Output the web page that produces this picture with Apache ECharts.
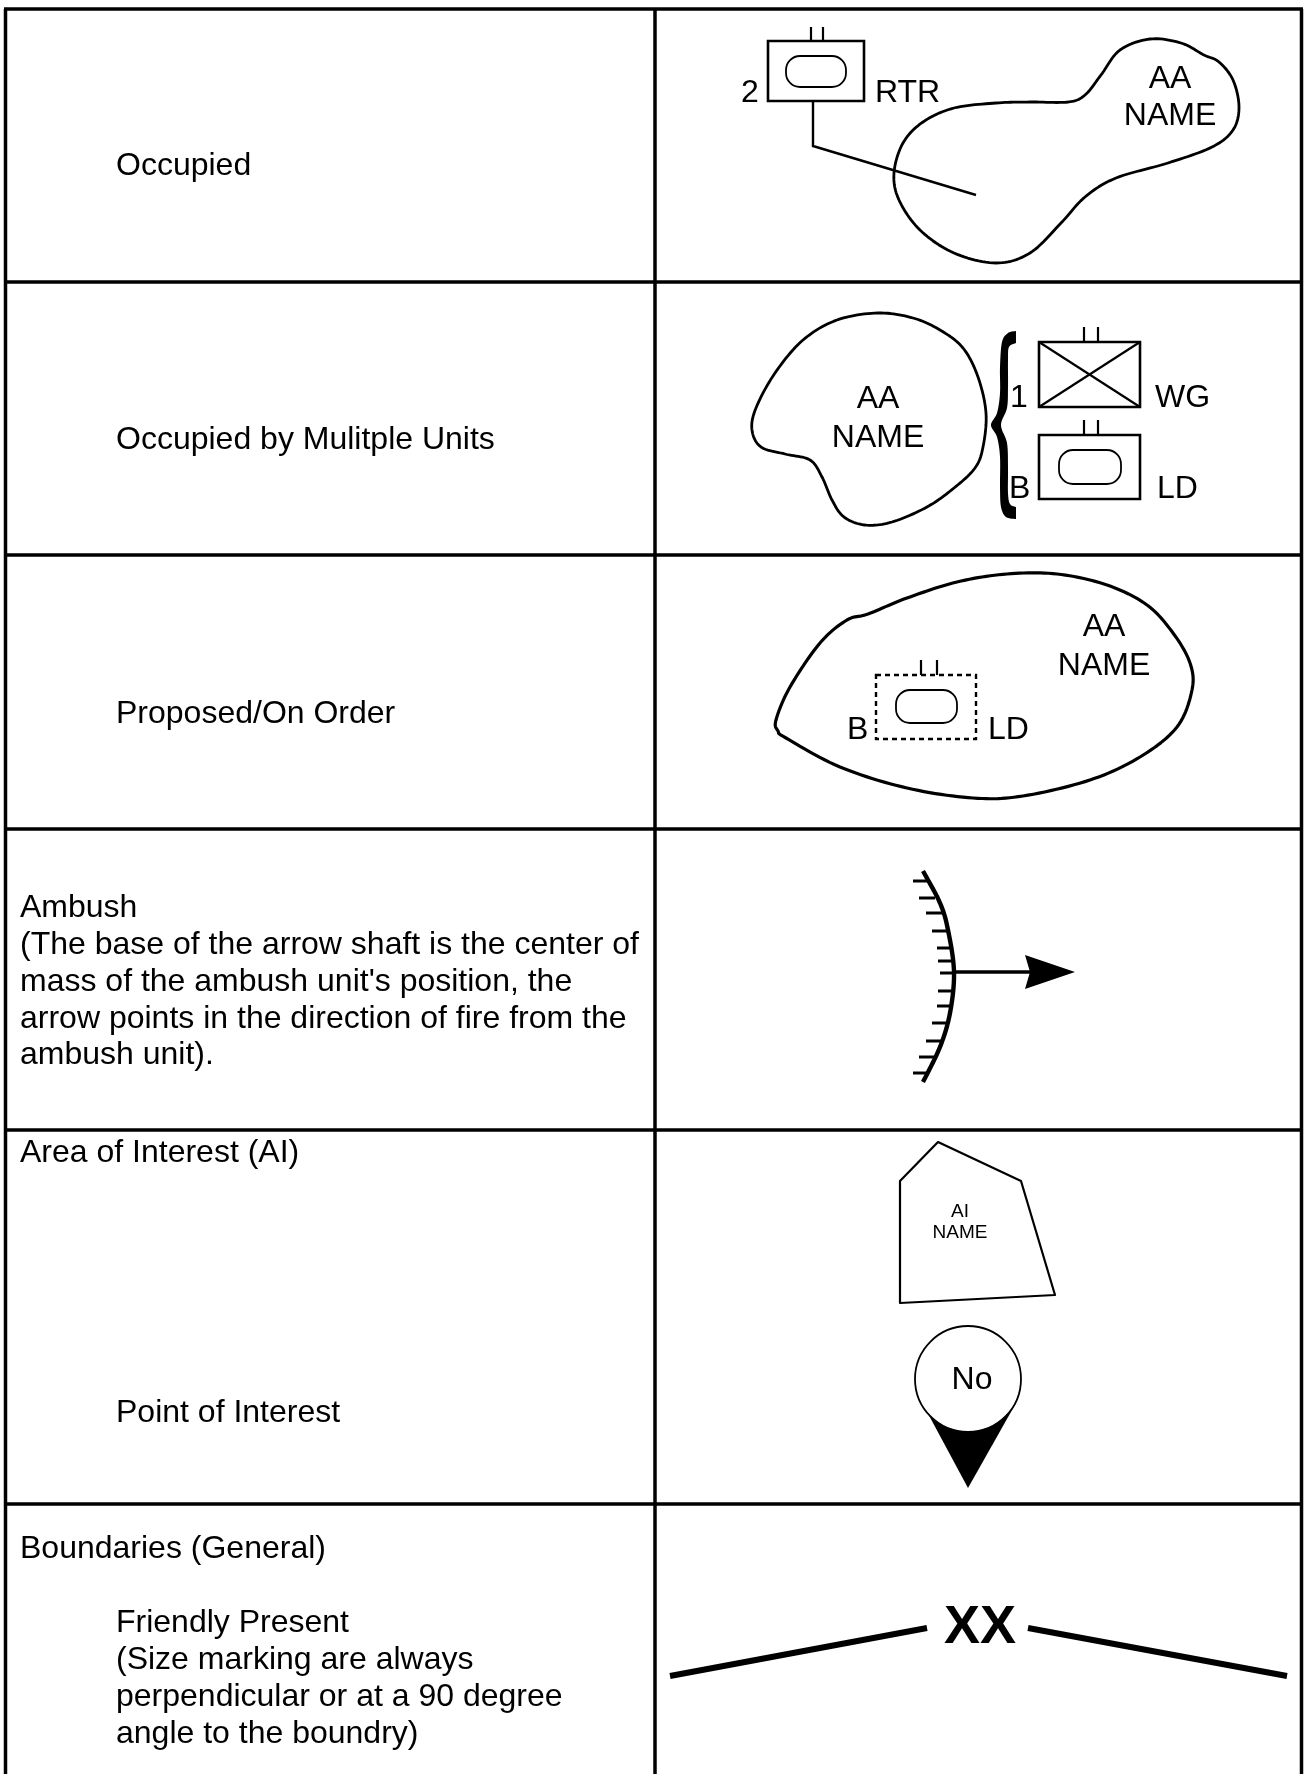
<!DOCTYPE html>
<html><head><meta charset="utf-8">
<style>html,body{margin:0;padding:0;background:#fff}#c{width:1304px;height:1774px}</style>
<script src="https://cdn.jsdelivr.net/npm/echarts@6/dist/echarts.min.js"></script>
</head><body><div id="c"></div>
<script>
// ---- diagram values, in page-sized axis units ----
const tableX = [5.5, 655, 1301.5];
const tableY = [9, 282, 555, 829, 1130, 1504];

const blobOccupied = [[1068,102],[1085,95],[1101,75],[1120,50],[1150,39],[1181,43],[1204,55],[1219,62],[1233,80],[1239,107],[1233,130],[1212,147],[1168,163],[1116,178],[1085,197],[1061,223],[1030,253],[996,263],[954,253],[920,230],[899,200],[894,173],[903,143],[923,122],[954,108],[996,103],[1030,102]];
const blobMultiple = [[878,313],[913,318],[940,330],[963,348],[978,377],[986,413],[983,447],[975,468],[954,488],[927,507],[892,522],[865,525],[844,517],[832,500],[822,477],[810,460],[785,454],[761,447],[752,430],[756,408],[775,373],[803,340],[837,320]];
const blobProposed = [[868,614],[907,598],[957,582],[1007,574],[1057,574],[1107,585],[1147,605],[1173,633],[1190,663],[1192,690],[1177,727],[1140,757],[1090,780],[1023,796],[973,798],[907,788],[840,767],[786,738],[778,731],[776,720],[790,687],[820,643],[847,620]];
const braceOuter = [[1016,331],[1008,333],[1002,342],[1000,367],[1000,393],[997,413],[991,425],[997,437],[1000,457],[1000,487],[1001,507],[1006,517],[1016,519]];
const braceInner = [[1016,507],[1010,504],[1008,493],[1008,467],[1007,443],[1001,425],[1007,408],[1008,387],[1008,360],[1009,347],[1016,343]];

const unitBoxes = [[768,41,864,101],[1039,342,1140,407],[1039,435,1140,499]];
const dashedBox = [876,675,976,739];
const armourOvals = [[786,56,846,87],[1059,450,1121,484],[896,690,957,723]];
const sizeTicks = [[811,27,811,41],[823,27,823,41],[1084,327,1084,342],[1098,327,1098,342],[1084,420,1084,435],[1098,420,1098,435],[921,660,921,675],[937,660,937,675]];
const leaderLine = [[813,101],[813,146],[976,195]];
const crossLines = [[1039,342,1140,407],[1039,407,1140,342]];

const ambushArc = [[923,871],[940,903],[948,930],[954,972],[950,1013],[940,1047],[923,1082]];
const ambushHatchY = [881,898,913,931,948,961,973,991,1006,1023,1041,1057,1073];
const ambushHatchLeft = [913,919,926,932,937,938,940,938,937,932,926,919,913];
const ambushHatchRight = [928,935,942,948,952,953,954,953,951,947,941,934,927];
const arrowShaft = [[954,972],[1030,972]];
const arrowHead = [[1075,972],[1025,955],[1030,972],[1025,989]];

const areaOfInterest = [[938,1142],[1021,1181],[1055,1295],[900,1303],[900,1181]];
const pinWedge = [[918,1395],[968,1488],[1016,1403]];
const pinCircle = [968,1379,53];

const boundaryLeft = [[670,1676],[927,1628]];
const boundaryRight = [[1028,1628],[1287,1676]];

const bodyTexts = ["Occupied","Occupied by Mulitple Units","Proposed/On Order","Ambush","(The base of the arrow shaft is the center of","mass of the ambush unit's position, the","arrow points in the direction of fire from the","ambush unit).","Area of Interest (AI)","Point of Interest","Boundaries (General)","Friendly Present","(Size marking are always","perpendicular or at a 90 degree","angle to the boundry)"];
const bodyAnchors = [[116,175],[116,449],[116,723],[20,917],[20,954],[20,991],[20,1028],[20,1064],[20,1162],[116,1422],[20,1558],[116,1632],[116,1669],[116,1706],[116,1743]];
const symbolTexts = ["2","RTR","AA","NAME","1","WG","B","LD","AA","NAME","B","LD","AA","NAME","No"];
const symbolAnchors = [[741,102],[875,102],[1170,88],[1170,125],[1010,407],[1155,407],[1009,498],[1157,498],[878,408],[878,447],[847,739],[988,739],[1104,636],[1104,675],[972,1389]];
const symbolAligns = ["left","left","center","center","left","left","left","left","center","center","left","left","center","center","center"];
const aiTexts = ["AI","NAME"];
const aiAnchors = [[960,1217],[960,1238]];
const divisionText = "XX";
const divisionAnchor = [980,1643];

// ---- helpers ----
function spline(pts, closed){
  const n = pts.length, out = [];
  const at = i => closed ? pts[(i+n)%n] : pts[Math.max(0,Math.min(n-1,i))];
  const segs = closed ? n : n-1;
  for(let i=0;i<segs;i++){
    const p0=at(i-1),p1=at(i),p2=at(i+1),p3=at(i+2);
    for(let k=0;k<12;k++){
      const t=k/12,t2=t*t,t3=t2*t;
      out.push([0,1].map(d=>0.5*(2*p1[d]+(p2[d]-p0[d])*t+(2*p0[d]-5*p1[d]+4*p2[d]-p3[d])*t2+(3*p1[d]-p0[d]-3*p2[d]+p3[d])*t3)));
    }
  }
  if(!closed) out.push(pts[n-1]);
  return out;
}
const FONT = '"Liberation Sans", Arial, sans-serif';
const marks = [];
const ink = '#000';
const line = (pts,w,dash)=>marks.push({k:'polyline',pts,w,dash});
const ring = (pts,w)=>marks.push({k:'polygon',pts,w,fill:'none'});
const solid = (pts)=>marks.push({k:'polygon',pts,w:0,fill:ink});
const seg = (s,w)=>line([[s[0],s[1]],[s[2],s[3]]],w);
const box = (b,w,r,dash)=>marks.push({k:'rect',b,w,r,dash});
const text = (t,a,size,align,weight)=>marks.push({k:'text',t,a,size,align,weight});

tableY.forEach(y=>line([[tableX[0]-1.5,y],[tableX[2]+1.5,y]],3.5));
tableX.forEach(x=>line([[x,tableY[0]],[x,1774]],3.5));

ring(spline(blobOccupied,true),2.8);
ring(spline(blobMultiple,true),2.8);
ring(spline(blobProposed,true),3.2);
solid(spline(braceOuter,false).concat(spline(braceInner,false)));

unitBoxes.forEach(b=>box(b,2.6,0));
box(dashedBox,2.4,0,[5,4]);
armourOvals.forEach(b=>box(b,1.8,14));
sizeTicks.forEach(s=>seg(s,2.2));
line(leaderLine,2.4);
crossLines.forEach(s=>seg(s,2.2));

line(spline(ambushArc,false),4.4);
ambushHatchY.forEach((y,i)=>seg([ambushHatchLeft[i],y,ambushHatchRight[i],y],3));
line(arrowShaft,3.5);
solid(arrowHead);

ring(areaOfInterest,2.2);
solid(pinWedge);
marks.push({k:'circle',c:pinCircle,w:1.8});

line(boundaryLeft,6);
line(boundaryRight,6);

bodyTexts.forEach((t,i)=>text(t,bodyAnchors[i],32,'left','normal'));
symbolTexts.forEach((t,i)=>text(t,symbolAnchors[i],32,symbolAligns[i],'normal'));
aiTexts.forEach((t,i)=>text(t,aiAnchors[i],19,'center','normal'));
text(divisionText,divisionAnchor,54,'center','bold');

function renderItem(params, api){
  const m = marks[api.value(0)];
  const C = p => api.coord(p);
  if(m.k==='polyline') return {type:'polyline',shape:{points:m.pts.map(C)},style:{fill:null,stroke:ink,lineWidth:m.w,lineDash:m.dash||null}};
  if(m.k==='polygon') return {type:'polygon',shape:{points:m.pts.map(C)},style:m.fill==='none'?{fill:null,stroke:ink,lineWidth:m.w,lineJoin:'round'}:{fill:ink,stroke:null}};
  if(m.k==='rect'){
    const a=C([m.b[0],m.b[1]]),b=C([m.b[2],m.b[3]]);
    return {type:'rect',shape:{x:a[0],y:a[1],width:b[0]-a[0],height:b[1]-a[1],r:m.r},style:{fill:null,stroke:ink,lineWidth:m.w,lineDash:m.dash||null}};
  }
  if(m.k==='circle'){
    const c=C([m.c[0],m.c[1]]),e=C([m.c[0]+m.c[2],m.c[1]]);
    return {type:'circle',shape:{cx:c[0],cy:c[1],r:e[0]-c[0]},style:{fill:'#fff',stroke:ink,lineWidth:m.w}};
  }
  const p=C(m.a);
  return {type:'text',x:p[0],y:p[1]-0.275*m.size,style:{text:m.t,fill:ink,font:m.weight+' '+m.size+'px '+FONT,textAlign:m.align,textVerticalAlign:'middle',verticalAlign:'middle'}};
}

const chart = echarts.init(document.getElementById('c'),null,{renderer:'canvas'});
chart.setOption({
  animation:false,
  backgroundColor:'#fff',
  grid:{left:0,right:0,top:0,bottom:0},
  xAxis:{type:'value',min:0,max:1304,show:false},
  yAxis:{type:'value',min:0,max:1774,inverse:true,show:false},
  tooltip:{show:false},
  series:[{type:'custom',clip:false,silent:true,coordinateSystem:'cartesian2d',renderItem,
    encode:{x:1,y:2},
    data:marks.map((m,i)=>[i,0,0])}]
});
</script></body></html>
